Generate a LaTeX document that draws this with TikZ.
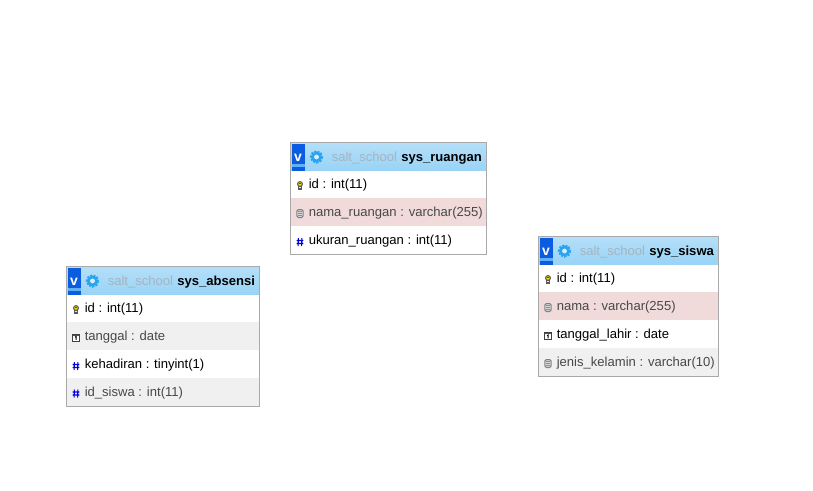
\documentclass[tikz,border=0pt]{standalone}
\usepackage{fontspec}
\setmainfont{Liberation Sans}
\definecolor{hdrtop}{HTML}{B4DFF9}
\definecolor{hdrbot}{HTML}{98D3F6}
\definecolor{frame}{HTML}{A9A9A9}
\definecolor{rowred}{HTML}{F1DADA}
\definecolor{rowgrey}{HTML}{F0F0F0}
\definecolor{btn}{HTML}{0A5CE0}
\definecolor{btnband}{HTML}{5FB0F5}
\definecolor{gear}{HTML}{2BA3EE}
\definecolor{dimtext}{HTML}{484848}
\definecolor{saltgrey}{HTML}{A6B4BE}
\tikzset{
  x=0.75pt,y=-0.75pt,
  rowtext/.style={anchor=base west,inner sep=0pt,font=\fontsize{9.8}{11}\selectfont,text=black},
  dimrow/.style={rowtext,text=dimtext},
  titlebit/.style={anchor=base west,inner sep=0pt,font=\fontsize{9.8}{11}\selectfont},
  framebox/.style={draw=frame,line width=0.75pt},
  pics/pkicon/.style={code={
    \draw[black!65,line width=0.8pt,fill=yellow!80!orange] (0,-2) ellipse (2.4 and 2.4);
    \fill[black!70] (-0.6,-2.6) rectangle (0.6,-1.6);
    \draw[black!65,line width=0.8pt,fill=yellow!55!white] (-1.7,0.4) rectangle (1.7,3.8);
    \draw[black!65,line width=0.6pt] (-1.7,2) -- (1.7,2);
  }},
  pics/texticon/.style={code={
    \draw[black!50,line width=0.75pt,rounded corners=1.2pt,fill=white!85!black] (-3.2,-4) rectangle (3.2,4);
    \foreach \q in {-2,0,2}{\draw[black!45,line width=0.6pt] (-1.8,\q) -- (1.8,\q);}
  }},
  pics/numicon/.style={code={
    \draw[blue!85!black,line width=0.8pt] (-1.6,-4) -- (-1.9,4) (1.9,-4) -- (1.6,4) (-3.4,-1.5) -- (3.4,-1.5) (-3.4,1.5) -- (3.4,1.5);
  }},
  pics/dateicon/.style={code={
    \fill[white] (-3.5,-3.5) rectangle (3.5,3.5);
    \fill[btn] (-3.5,-3.5) rectangle (3.5,-2);
    \draw[black!75,line width=0.7pt] (-3.5,-3.5) rectangle (3.5,3.5);
    \draw[black,line width=0.7pt] (-0.9,-0.4) -- (0.2,-1) -- (0.2,2.4);
  }},
  pics/tablehead/.style={code={
    \fill[btn] (1,1.5) rectangle (14.5,28);
    \fill[btnband] (1,21.5) rectangle (14.5,24);
    \node[anchor=base,inner sep=0pt,text=white,font=\bfseries\fontsize{10.5}{12}\selectfont] at (7.5,18.5) {v};
    \draw[gear,line width=1.6pt,dash pattern=on 1.6pt off 0.9pt] (26,14.5) circle (5.6);
    \draw[gear,line width=2.2pt] (26,14.5) circle (3.8);
    \fill[white!60!hdrbot] (26,14.5) circle (2.4);
  }},
}
% \dbhead{name}{x0}{y0}{x1}{table name}
\newcommand{\dbhead}[5]{%
  \shade[top color=hdrtop,bottom color=hdrbot] (#2,#3) rectangle (#4,#3+28);
  \pic at (#2,#3) {tablehead};
  \node[titlebit,text=saltgrey] (#1db) at (#2+41,#3+18.5) {salt\_school};
  \node[titlebit,text=black,font=\bfseries\fontsize{9.8}{11}\selectfont] (#1name) at (#2+110.5,#3+18.5) {#5};
}
% \dbrow{name}{x0}{y top}{x1}{fill}{icon}{style}{text}
\newcommand{\dbrow}[8]{%
  \fill[#5] (#2,#3) rectangle (#4,#3+28);
  \pic at (#2+9.5,#3+15.5) {#6};
  \node[#7] (#1) at (#2+18,#3+18.3) {#8};
}
\begin{document}
\begin{tikzpicture}
\useasboundingbox[fill=white] (0,0) rectangle (813,490);

% sys_ruangan
\dbhead{ru}{290.5}{142.5}{486.5}{sys\_ruangan}
\dbrow{ruid}{290.5}{170.5}{486.5}{white}{pkicon}{rowtext}{id : int(11)}
\dbrow{runama}{290.5}{198}{486.5}{rowred}{texticon}{dimrow}{nama\_ruangan : varchar(255)}
\dbrow{ruukuran}{290.5}{226.5}{486.5}{white}{numicon}{rowtext}{ukuran\_ruangan : int(11)}
\draw[framebox] (290.5,142.5) rectangle (486.5,254.5);

% sys_absensi
\dbhead{ab}{66.5}{266.5}{259.5}{sys\_absensi}
\dbrow{abid}{66.5}{294.5}{259.5}{white}{pkicon}{rowtext}{id : int(11)}
\dbrow{abtgl}{66.5}{322}{259.5}{rowgrey}{dateicon}{dimrow}{tanggal : date}
\dbrow{abhadir}{66.5}{350.5}{259.5}{white}{numicon}{rowtext}{kehadiran : tinyint(1)}
\dbrow{absiswa}{66.5}{378}{259.5}{rowgrey}{numicon}{dimrow}{id\_siswa : int(11)}
\draw[framebox] (66.5,266.5) rectangle (259.5,406.5);

% sys_siswa
\dbhead{si}{538.5}{236.5}{718.5}{sys\_siswa}
\dbrow{siid}{538.5}{264.5}{718.5}{white}{pkicon}{rowtext}{id : int(11)}
\dbrow{sinama}{538.5}{292}{718.5}{rowred}{texticon}{dimrow}{nama : varchar(255)}
\dbrow{silahir}{538.5}{320.5}{718.5}{white}{dateicon}{rowtext}{tanggal\_lahir : date}
\dbrow{sijk}{538.5}{348}{718.5}{rowgrey}{texticon}{dimrow}{jenis\_kelamin : varchar(10)}
\draw[framebox] (538.5,236.5) rectangle (718.5,376.5);
\end{tikzpicture}
\end{document}
